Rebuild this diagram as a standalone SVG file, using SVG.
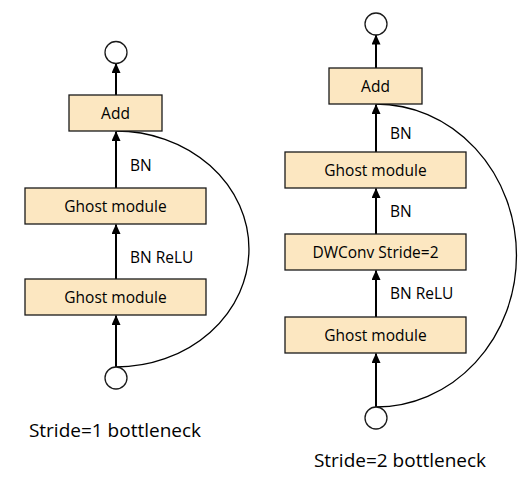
<svg xmlns="http://www.w3.org/2000/svg" width="521" height="485" viewBox="0 0 521 485">
<style>
.box{fill:#FCE7C1;stroke:#1a1a1a;stroke-width:1.3}
.circ{fill:#fff;stroke:#1a1a1a;stroke-width:1.3}
.lbl{font-family:"Open Sans","Liberation Sans",sans-serif;font-size:15.5px;fill:#000;text-anchor:middle}
.ann{font-family:"Open Sans","Liberation Sans",sans-serif;font-size:15.5px;fill:#000}
.cap{font-family:"Open Sans","Liberation Sans",sans-serif;font-size:19px;fill:#000;text-anchor:middle}
.arr{stroke:#000;stroke-width:2;fill:none;marker-end:url(#ah)}
.skip{stroke:#000;stroke-width:1.3;fill:none}
</style>
<defs>
<marker id="ah" markerUnits="userSpaceOnUse" markerWidth="10" markerHeight="9" viewBox="0 0 10 9" refX="9.5" refY="4.5" orient="auto">
<path d="M0,0 L10,4.5 L0,9 Z" fill="#000"/>
</marker>
</defs>
<g id="connectors">
<line class="arr" x1="116" y1="367" x2="116" y2="315.5"/>
<line class="arr" x1="116" y1="279" x2="116" y2="224.5"/>
<line class="arr" x1="116" y1="188" x2="116" y2="131.5"/>
<line class="arr" x1="116" y1="95" x2="116" y2="63.5"/>
<path class="skip" d="M116,131 A133,118 0 0,1 116,367"/>
<line class="arr" x1="376" y1="407" x2="376" y2="353.5"/>
<line class="arr" x1="376" y1="317" x2="376" y2="270.5"/>
<line class="arr" x1="376" y1="234" x2="376" y2="188.5"/>
<line class="arr" x1="376" y1="152" x2="376" y2="104.5"/>
<line class="arr" x1="376" y1="68" x2="376" y2="35"/>
<path class="skip" d="M376,104 A140,151 0 0,1 376,407"/>
</g>
<g id="left-out"><circle class="circ" cx="116" cy="52.5" r="11"/></g>
<g id="left-add"><rect class="box" x="69" y="95" width="93" height="36"/><text class="lbl" x="115.5" y="119">Add</text></g>
<g id="left-ghost1"><rect class="box" x="25" y="188" width="181" height="36"/><text class="lbl" x="115.5" y="212">Ghost module</text></g>
<g id="left-ghost2"><rect class="box" x="25" y="279" width="181" height="36"/><text class="lbl" x="115.5" y="303">Ghost module</text></g>
<g id="left-in"><circle class="circ" cx="116" cy="378" r="11"/></g>
<g id="left-labels">
<text class="ann" x="130" y="171">BN</text>
<text class="ann" x="130" y="263">BN ReLU</text>
<text class="cap" x="115" y="437">Stride=1 bottleneck</text>
</g>
<g id="right-out"><circle class="circ" cx="376" cy="24" r="11"/></g>
<g id="right-add"><rect class="box" x="329" y="68" width="93" height="36"/><text class="lbl" x="375.5" y="92">Add</text></g>
<g id="right-ghost1"><rect class="box" x="285" y="152" width="181" height="36"/><text class="lbl" x="375.5" y="176">Ghost module</text></g>
<g id="right-dwconv"><rect class="box" x="285" y="234" width="181" height="36"/><text class="lbl" x="375.5" y="258">DWConv Stride=2</text></g>
<g id="right-ghost2"><rect class="box" x="285" y="317" width="181" height="36"/><text class="lbl" x="375.5" y="341">Ghost module</text></g>
<g id="right-in"><circle class="circ" cx="376" cy="418" r="11"/></g>
<g id="right-labels">
<text class="ann" x="390" y="139">BN</text>
<text class="ann" x="390" y="217">BN</text>
<text class="ann" x="390" y="299">BN ReLU</text>
<text class="cap" x="400" y="467">Stride=2 bottleneck</text>
</g>
</svg>
